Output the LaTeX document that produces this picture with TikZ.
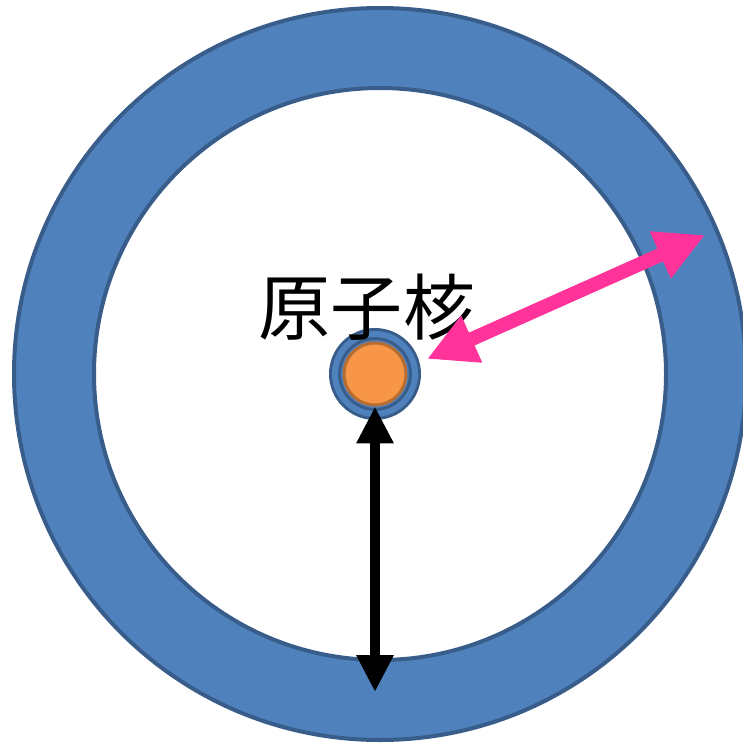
\documentclass[tikz,border=0pt]{standalone}
\usepackage{fontspec}
\newfontfamily\cjk{Noto Sans CJK JP}
\usetikzlibrary{arrows.meta}
\definecolor{ringblue}{HTML}{4F81BD}
\definecolor{ringedge}{HTML}{385D8A}
\definecolor{coreorange}{HTML}{F79646}
\definecolor{coreedge}{HTML}{B66D31}
\definecolor{hotpink}{HTML}{FF3399}

\begin{document}
\begin{tikzpicture}[x=0.02cm, y=-0.02cm,
			ring/.style={fill=ringblue, draw=ringedge, line width=0.08cm, even odd rule},
			shell/.style={circle, fill=ringblue, draw=ringedge, double=ringblue, double distance=0.12cm, line width=0.06cm, minimum size=1.6cm, inner sep=0pt},
			core/.style={circle, fill=coreorange, draw=coreedge, line width=0.06cm, minimum size=1.24cm, inner sep=0pt},
			label/.style={inner sep=0pt, font=\cjk\fontsize{41}{41}\selectfont},
			pinkarrow/.style={{Triangle[length=0.98cm, width=0.96cm]}-{Triangle[length=0.98cm, width=0.96cm]}, draw=hotpink, line width=0.28cm},
			blackarrow/.style={{Triangle[length=0.74cm, width=0.7cm]}-{Triangle[length=0.74cm, width=0.7cm]}, draw=black, line width=0.2cm}
			]
			\useasboundingbox (0,0) rectangle (743,744);
			% electron cloud
			\path[ring] (380,374) circle[radius=366] (380,374) circle[radius=286];
			
			\node[shell] (nucleus) at (375,374) {};
			\node[core] (core) at (375,374) {};
			\node[label] (name) at (367,307) {原子核};
			
			\coordinate (bottom) at (375,692);
			\coordinate (inner) at (427,359);
			\coordinate (outer) at (705,235);
			
			\draw[blackarrow] (core.south) -- (bottom);
			\draw[pinkarrow] (inner) -- (outer);
		\end{tikzpicture}
\end{document}
